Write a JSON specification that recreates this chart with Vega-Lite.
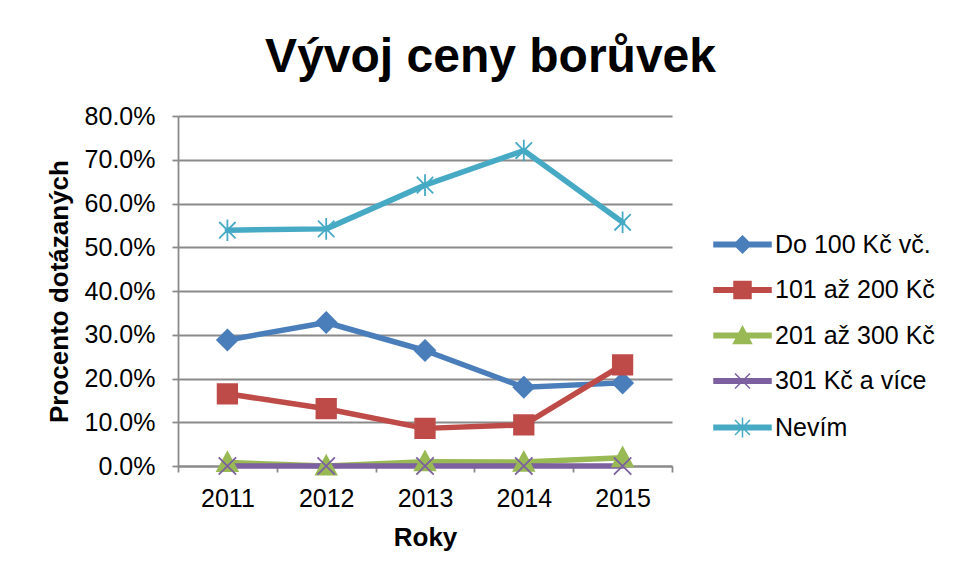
{
  "$schema": "https://vega.github.io/schema/vega-lite/v6.json",
  "width": 494,
  "height": 350,
  "autosize": {"type": "none"},
  "padding": {"left": 178, "top": 116, "right": 283, "bottom": 110},
  "background": "white",
  "title": {
    "text": "Vývoj ceny borůvek",
    "font": "Liberation Sans",
    "fontSize": 48,
    "fontWeight": "bold",
    "color": "black",
    "anchor": "middle",
    "frame": "bounds",
    "offset": 22
  },
  "config": {
    "font": "Liberation Sans",
    "view": {"stroke": null},
    "axis": {
      "labelFontSize": 25,
      "labelColor": "black",
      "titleFontSize": 26,
      "titleFontWeight": "bold",
      "titleColor": "black",
      "tickColor": "#8a8a8a",
      "tickWidth": 1.8,
      "tickSize": 6,
      "domainColor": "#8a8a8a",
      "domainWidth": 1.8,
      "gridColor": "#8a8a8a",
      "gridWidth": 1.8
    }
  },
  "data": {
    "values": [
      {"rok": "2011", "serie": "Do 100 Kč vč.", "znacka": "kosoctverec", "podil": 0.288},
      {"rok": "2012", "serie": "Do 100 Kč vč.", "znacka": "kosoctverec", "podil": 0.328},
      {"rok": "2013", "serie": "Do 100 Kč vč.", "znacka": "kosoctverec", "podil": 0.264},
      {"rok": "2014", "serie": "Do 100 Kč vč.", "znacka": "kosoctverec", "podil": 0.180},
      {"rok": "2015", "serie": "Do 100 Kč vč.", "znacka": "kosoctverec", "podil": 0.190},
      {"rok": "2011", "serie": "101 až 200 Kč", "znacka": "ctverec", "podil": 0.165},
      {"rok": "2012", "serie": "101 až 200 Kč", "znacka": "ctverec", "podil": 0.131},
      {"rok": "2013", "serie": "101 až 200 Kč", "znacka": "ctverec", "podil": 0.086},
      {"rok": "2014", "serie": "101 až 200 Kč", "znacka": "ctverec", "podil": 0.094},
      {"rok": "2015", "serie": "101 až 200 Kč", "znacka": "ctverec", "podil": 0.231},
      {"rok": "2011", "serie": "201 až 300 Kč", "znacka": "trojuhelnik", "podil": 0.008},
      {"rok": "2012", "serie": "201 až 300 Kč", "znacka": "trojuhelnik", "podil": 0.0},
      {"rok": "2013", "serie": "201 až 300 Kč", "znacka": "trojuhelnik", "podil": 0.010},
      {"rok": "2014", "serie": "201 až 300 Kč", "znacka": "trojuhelnik", "podil": 0.009},
      {"rok": "2015", "serie": "201 až 300 Kč", "znacka": "trojuhelnik", "podil": 0.019},
      {"rok": "2011", "serie": "301 Kč a více", "znacka": "krizek", "podil": 0.0},
      {"rok": "2012", "serie": "301 Kč a více", "znacka": "krizek", "podil": 0.0},
      {"rok": "2013", "serie": "301 Kč a více", "znacka": "krizek", "podil": 0.0},
      {"rok": "2014", "serie": "301 Kč a více", "znacka": "krizek", "podil": 0.0},
      {"rok": "2015", "serie": "301 Kč a více", "znacka": "krizek", "podil": 0.0},
      {"rok": "2011", "serie": "Nevím", "znacka": "hvezdicka", "podil": 0.539},
      {"rok": "2012", "serie": "Nevím", "znacka": "hvezdicka", "podil": 0.542},
      {"rok": "2013", "serie": "Nevím", "znacka": "hvezdicka", "podil": 0.642},
      {"rok": "2014", "serie": "Nevím", "znacka": "hvezdicka", "podil": 0.721},
      {"rok": "2015", "serie": "Nevím", "znacka": "hvezdicka", "podil": 0.557}
    ]
  },
  "encoding": {
    "x": {
      "field": "rok",
      "type": "ordinal",
      "scale": {"type": "band", "paddingInner": 0, "paddingOuter": 0},
      "axis": {
        "title": "Roky",
        "labelAngle": 0,
        "labelPadding": 14,
        "tickBand": "extent",
        "grid": false,
        "titlePadding": 13
      }
    },
    "y": {
      "field": "podil",
      "type": "quantitative",
      "scale": {"domain": [0, 0.8], "nice": false},
      "axis": {
        "title": "Procento dotázaných",
        "format": ".1%",
        "values": [0, 0.1, 0.2, 0.3, 0.4, 0.5, 0.6, 0.7, 0.8],
        "labelPadding": 17,
        "titlePadding": 12,
        "grid": true
      }
    },
    "color": {
      "field": "serie",
      "type": "nominal",
      "sort": null,
      "scale": {
        "domain": ["Do 100 Kč vč.", "101 až 200 Kč", "201 až 300 Kč", "301 Kč a více", "Nevím"],
        "range": ["#4A7EBB", "#BE4B48", "#98B954", "#7D60A0", "#46AAC5"]
      },
      "legend": {
        "title": null,
        "orient": "none",
        "legendX": 552,
        "legendY": 116,
        "padding": 0,
        "labelFontSize": 25,
        "labelColor": "black",
        "labelOffset": 20,
        "rowPadding": 19.5,
        "symbolSize": 400,
        "symbolStrokeWidth": 1.5,
        "encode": {
          "symbols": {
            "update": {
              "shape": {"signal": "datum.value === 'Do 100 Kč vč.' ? 'M-2.85,-0.22H2.85V0.22H-2.85Z M0,-0.85L0.85,0L0,0.85L-0.85,0Z' : datum.value === '101 až 200 Kč' ? 'M-2.85,-0.22H2.85V0.22H-2.85Z M-0.85,-0.85H0.85V0.85H-0.85Z' : datum.value === '201 až 300 Kč' ? 'M-2.85,-0.22H2.85V0.22H-2.85Z M0,-0.9L0.9,0.8H-0.9Z' : datum.value === '301 Kč a více' ? 'M-2.85,-0.22H2.85V0.22H-2.85Z M-0.75,-0.75L0.75,0.75M-0.75,0.75L0.75,-0.75' : 'M-2.85,-0.22H2.85V0.22H-2.85Z M-0.75,-0.75L0.75,0.75M-0.75,0.75L0.75,-0.75M0,-1L0,1'"},
              "fill": {"scale": "color", "field": "value"},
              "stroke": {"scale": "color", "field": "value"},
              "strokeWidth": {"value": 1.5},
              "size": {"value": 400},
              "opacity": {"value": 1}
            }
          }
        }
      }
    }
  },
  "layer": [
    {
      "mark": {"type": "line", "strokeWidth": 5.5, "strokeJoin": "round", "strokeCap": "round"}
    },
    {
      "mark": {"type": "point", "filled": true, "size": 420, "strokeWidth": 1.8, "opacity": 1},
      "encoding": {
        "shape": {
          "field": "znacka",
          "type": "nominal",
          "scale": {
            "domain": ["kosoctverec", "ctverec", "trojuhelnik", "krizek", "hvezdicka"],
            "range": [
              "M0,-1L1,0L0,1L-1,0Z",
              "M-0.95,-0.95H0.95V0.95H-0.95Z",
              "M0,-1L1,0.85H-1Z",
              "M-0.85,-0.85L0.85,0.85M-0.85,0.85L0.85,-0.85",
              "M-0.8,-0.8L0.8,0.8M-0.8,0.8L0.8,-0.8M0,-1.05L0,1.05"
            ]
          },
          "legend": null
        },
        "stroke": {
          "field": "serie",
          "type": "nominal",
          "scale": {
            "domain": ["Do 100 Kč vč.", "101 až 200 Kč", "201 až 300 Kč", "301 Kč a více", "Nevím"],
            "range": ["#4A7EBB", "#BE4B48", "#98B954", "#7D60A0", "#46AAC5"]
          },
          "legend": null
        }
      }
    }
  ]
}
